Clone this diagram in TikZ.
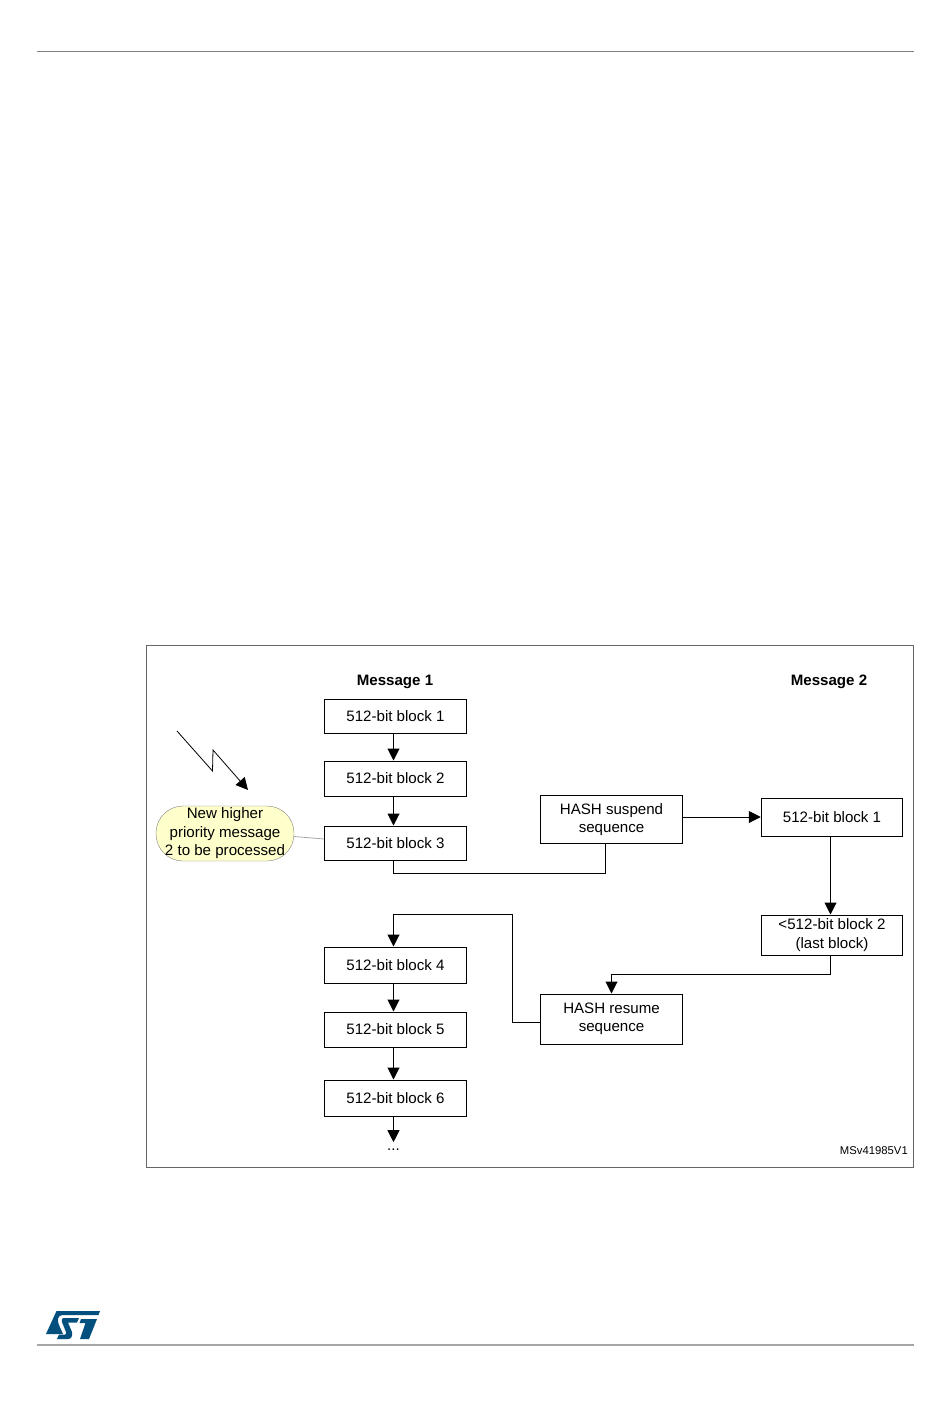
\documentclass[tikz,border=0pt]{standalone}
\usepackage{fontspec}
\setmainfont{Liberation Sans}
\usetikzlibrary{arrows.meta}
\definecolor{stblue}{HTML}{03507F}
\definecolor{noteyellow}{HTML}{FFFFCC}
\tikzset{
  blockbox/.style = {draw, line width = 1pt, minimum width = 142pt, inner sep = 0pt, align = center, font = \fontsize{15.1}{18.5}\selectfont},
  heading/.style = {font = \fontsize{15.1}{19}\selectfont\bfseries},
  flow/.style = {line width = 1pt, -{Triangle[length = 12pt, width = 12pt]}},
  plainflow/.style = {line width = 1pt}
}
\begin{document}
\begin{tikzpicture}[x = 1pt, y = -1pt]
  \useasboundingbox (0, 0) rectangle (950, 1420);
  % page rules and frame
  \draw [gray, line width = 1pt] (37, 51.5) -- (914, 51.5);
  \draw [gray!70, line width = 1.2pt] (37, 1345) -- (914, 1345);
  \draw [gray!80!black, line width = 1pt] (146, 645) rectangle (913, 1167.5);
  % logo
  \fill [stblue] (56.5, 1311) -- (100, 1311) -- (98.5, 1315) -- (62, 1315) .. controls (57.5, 1316) and (57, 1320) .. (59, 1325) -- (63, 1334) -- (46, 1334) -- cycle;
  \fill [stblue] (63, 1318) -- (79, 1318) -- (77, 1322.5) -- (68, 1322.5) -- (72, 1332) .. controls (73, 1336) and (71, 1339) .. (68, 1339) -- (57, 1339) -- (59, 1334.5) -- (65, 1334.5) .. controls (66.5, 1334.5) and (66.5, 1333) .. (66, 1332) -- (62, 1322) .. controls (61.5, 1320) and (62, 1318.5) .. (63, 1318) -- cycle;
  \fill [stblue] (81, 1319) -- (97, 1319) -- (89, 1339) -- (80, 1339) -- (85.5, 1323) -- (79.5, 1323) -- cycle;
  % message 1
  \node [heading] (head1) at (395, 682) {Message 1};
  \node [blockbox, minimum height = 34pt] (block1) at (395.5, 716) {512-bit block 1};
  \node [blockbox, minimum height = 35pt] (block2) at (395.5, 778.5) {512-bit block 2};
  \node [blockbox, minimum height = 34pt] (block3) at (395.5, 843) {512-bit block 3};
  \node [blockbox, minimum height = 36pt] (block4) at (395.5, 965) {512-bit block 4};
  \node [blockbox, minimum height = 35pt] (block5) at (395.5, 1029.5) {512-bit block 5};
  \node [blockbox, minimum height = 36pt] (block6) at (395.5, 1098) {512-bit block 6};
  \node [font = \fontsize{15.1}{19}\selectfont, inner sep = 0pt, anchor = base] (dots) at (393.5, 1150) {...};
  % message 2
  \node [heading] (head2) at (829, 682) {Message 2};
  \node [blockbox, minimum width = 141.5pt, minimum height = 38pt] (other1) at (832, 817) {512-bit block 1};
  \node [blockbox, minimum width = 141.5pt, minimum height = 40pt] (other2) at (832, 935) {<512-bit block 2\\(last block)};
  % suspend and resume
  \node [blockbox, minimum height = 48pt] (suspend) at (611.5, 819.5) {HASH suspend\\sequence};
  \node [blockbox, minimum height = 50pt] (resume) at (611.5, 1019) {HASH resume\\sequence};
  % note
  \node [draw = gray, fill = noteyellow, rounded corners = 27pt, minimum width = 138pt, minimum height = 55pt, inner sep = 0pt, align = center, font = \fontsize{15.1}{18.5}\selectfont] (note) at (225, 833.5) {New higher\\priority message\\2 to be processed};
  \node [font = \fontsize{11.3}{13}\selectfont, anchor = east, inner sep = 0pt] (ref) at (908, 1150.5) {MSv41985V1};
  % helpers for the off-centre lines
  \coordinate (spine) at (393.5, 0);
  \coordinate (rise) at (605.5, 0);
  \coordinate (down) at (830.5, 0);
  % connectors
  \draw [flow] (block1.south -| spine) -- (block2.north -| spine);
  \draw [flow] (block2.south -| spine) -- (block3.north -| spine);
  \draw [flow] (block4.south -| spine) -- (block5.north -| spine);
  \draw [flow] (block5.south -| spine) -- (block6.north -| spine);
  \draw [flow] (block6.south -| spine) -- ([yshift = 6pt]dots.north -| spine);
  \draw [plainflow] (block3.south -| spine) -- ++(0, 12.5) -| (suspend.south -| rise);
  \draw [flow] (suspend.east |- other1.west) -- (other1.west);
  \draw [flow] (other1.south -| down) -- (other2.north -| down);
  \draw [flow] (other2.south -| down) -- ++(0, 19) -| (resume.north);
  \draw [flow] ([yshift = -3pt]resume.west) -- ++(-27.5, 0) |- ++(-119, -107.5) -- (block4.north -| spine);
  \draw [gray!70, line width = .8pt] ([yshift = -3pt]note.east) -- ([yshift = 4pt]block3.west);
  % lightning
  \draw [flow, line width = .8pt] (177, 731) -- (212.5, 771) -- (213, 750) -- (248, 790);
\end{tikzpicture}
\end{document}
